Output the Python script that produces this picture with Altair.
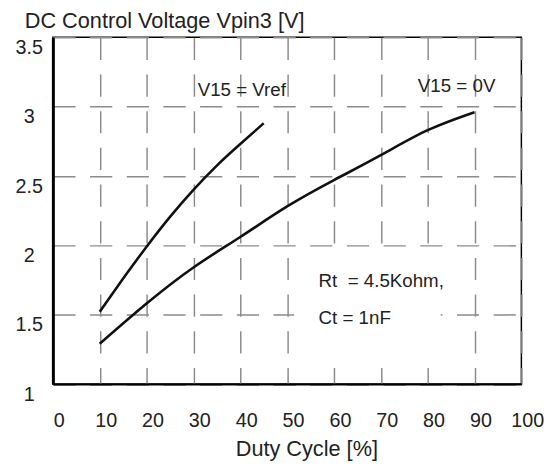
import altair as alt
import pandas as pd

# --- data ---
duty_vref = [10, 15, 20, 25, 30, 35, 40, 45]
volt_vref = [1.52, 1.76, 1.99, 2.205, 2.40, 2.575, 2.73, 2.88]

duty_0v = [10, 20, 30, 40, 50, 60, 70, 80, 90]
volt_0v = [1.29, 1.58, 1.84, 2.06, 2.28, 2.47, 2.65, 2.83, 2.96]

x_ticks = [0, 10, 20, 30, 40, 50, 60, 70, 80, 90, 100]
y_ticks = [1, 1.5, 2, 2.5, 3, 3.5]

ann_text = ["V15 = Vref", "V15 = 0V", "Rt\u00a0 = 4.5Kohm,", "Ct = 1nF"]
ann_x = [30.9, 77.9, 56.7, 56.7]
ann_y = [3.08, 3.105, 1.697, 1.429]

# white box behind the Rt / Ct note
mask_x = [51.5]
mask_x2 = [82.8]
mask_y = [1.206]
mask_y2 = [1.98]

FONT = "Liberation Sans"
INK = "#222222"

lines_df = pd.DataFrame({
    "duty": duty_vref + duty_0v,
    "volt": volt_vref + volt_0v,
    "series": ["V15 = Vref"] * len(duty_vref) + ["V15 = 0V"] * len(duty_0v),
})
ann_df = pd.DataFrame({"duty": ann_x, "volt": ann_y, "label": ann_text})
mask_df = pd.DataFrame({"duty": mask_x, "duty2": mask_x2, "volt": mask_y, "volt2": mask_y2})

x_scale = alt.Scale(domain=[0, 100], nice=False, zero=False)
y_scale = alt.Scale(domain=[1, 3.5], nice=False, zero=False)

grid_kw = dict(grid=True, gridDash=[22.5, 14.7], gridColor="#8c8c8c", gridWidth=1.5)

x_axis = alt.Axis(
    values=x_ticks, title="Duty Cycle [%]", ticks=False, tickSize=0,
    domain=True, domainColor="black", domainWidth=2,
    labelFont=FONT, labelFontSize=20, labelColor=INK, labelOffset=6, labelPadding=27,
    labelBaseline="top", labelFlush=False, labelOverlap=False,
    titleFont=FONT, titleFontSize=22, titleFontWeight="normal", titleColor=INK,
    titleX=257, titleY=73, titleAlign="center", titleBaseline="alphabetic",
    **grid_kw,
)
y_axis = alt.Axis(
    values=y_ticks, format="~g", title="DC Control Voltage Vpin3 [V]", ticks=False, tickSize=0,
    domain=True, domainColor="black", domainWidth=3,
    labelFont=FONT, labelFontSize=20, labelColor=INK, labelAlign="center", labelPadding=24.5,
    labelBaseline="middle", labelOffset=10.5, labelFlush=False, labelOverlap=False,
    titleFont=FONT, titleFontSize=22, titleFontWeight="normal", titleColor=INK,
    titleAngle=0, titleAlign="left", titleBaseline="alphabetic", titleX=-29, titleY=-9.5,
    **grid_kw,
)

X = alt.X("duty:Q", scale=x_scale, axis=x_axis)
Y = alt.Y("volt:Q", scale=y_scale, axis=y_axis)

mask = alt.Chart(mask_df).mark_rect(color="white", opacity=1).encode(
    x=X, x2="duty2:Q", y=Y, y2="volt2:Q"
)

lines = alt.Chart(lines_df).mark_line(
    color="#111111", strokeWidth=2.6, interpolate="natural"
).encode(x=X, y=Y, detail="series:N")

notes = alt.Chart(ann_df).mark_text(
    align="left", baseline="alphabetic", font=FONT, fontSize=19, color=INK
).encode(x=X, y=Y, text="label:N")

chart = alt.layer(mask, lines, notes).properties(
    width=475, height=351.5, autosize="none",
    padding={"left": 45.5, "top": 26.5, "right": 27, "bottom": 81},
    background="white",
).configure_view(stroke="black", strokeWidth=1.5)

chart.save("out.html", embed_options={"renderer": "svg", "actions": False})
